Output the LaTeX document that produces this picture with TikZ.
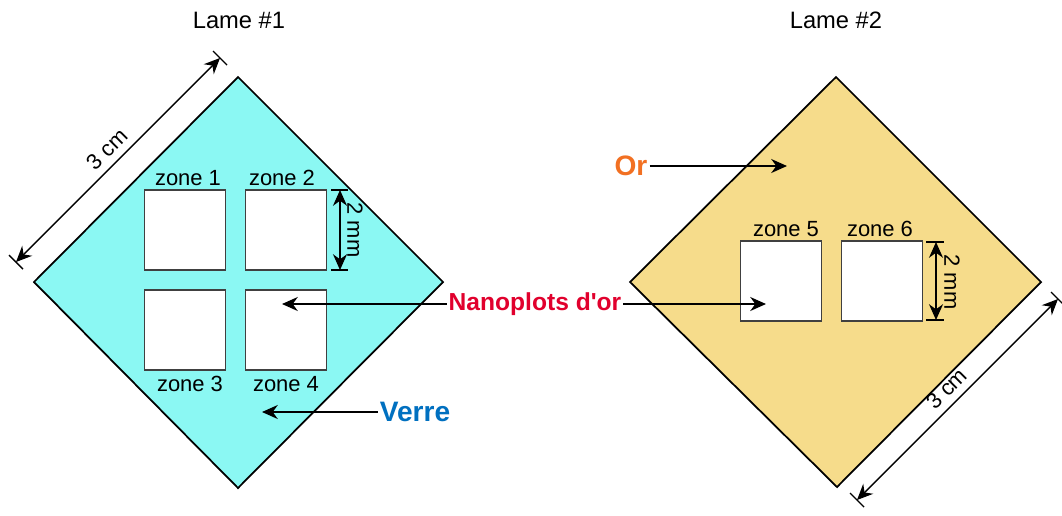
\documentclass[tikz,border=0pt]{standalone}
\usepackage{fontspec}
\setmainfont{Liberation Sans}
\usetikzlibrary{arrows.meta,calc}
\definecolor{glass}{RGB}{139,248,243}
\definecolor{gold}{RGB}{246,220,139}
\definecolor{nanored}{RGB}{225,0,45}
\definecolor{verreblue}{RGB}{0,112,192}
\definecolor{ororange}{RGB}{242,112,34}
\tikzset{
 plate/.style={draw=black, line width=1pt, line join=miter},
 zonebox/.style={draw=black!75, fill=white, line width=0.9pt, minimum width=1.62cm, minimum height=1.6cm, inner sep=0pt},
 zonelabel/.style={font=\fontsize{12.5}{14}\selectfont, inner sep=0pt},
 titlelabel/.style={font=\fontsize{13.5}{16}\selectfont, inner sep=0pt},
 callout/.style={font=\fontsize{14}{16}\selectfont\bfseries, inner sep=1pt},
 bigcallout/.style={font=\fontsize{16}{18}\selectfont\bfseries, inner sep=1pt},
 pointer/.style={draw=black, line width=0.9pt, -{Stealth[length=9pt,width=8pt]}},
 dimline/.style={draw=black, line width=0.8pt, {Stealth[length=9pt,width=8pt]}-{Stealth[length=9pt,width=8pt]}},
 dimtick/.style={draw=black, line width=0.8pt},
}
\begin{document}
\begin{tikzpicture}[x=0.02cm,y=-0.02cm]
\useasboundingbox[fill=white] (0,0) rectangle (1062,515);

% ---------- Lame #1 ----------
\coordinate (L1t) at (238,77);
\coordinate (L1r) at (443,282);
\coordinate (L1b) at (238,488);
\coordinate (L1l) at (34,282);
\draw[plate, fill=glass] (L1t) -- (L1r) -- (L1b) -- (L1l) -- cycle;
\node[titlelabel] (title1) at (239,20) {Lame \#1};

\node[zonebox] (z1) at (185,230) {};
\node[zonebox] (z2) at (286,230) {};
\node[zonebox] (z3) at (185,330) {};
\node[zonebox] (z4) at (286,330) {};
\node[zonelabel] (lz1) at (188,178) {zone 1};
\node[zonelabel] (lz2) at (282,178) {zone 2};
\node[zonelabel] (lz3) at (190,384) {zone 3};
\node[zonelabel] (lz4) at (286,384) {zone 4};

% 2 mm (left)
\coordinate (d1a) at (340,190);
\coordinate (d1b) at (340,270);
\draw[dimline] (d1a) -- (d1b);
\draw[dimtick] ($(d1a)+(-9,0)$) -- ($(d1a)+(8,0)$);
\draw[dimtick] ($(d1b)+(-9,0)$) -- ($(d1b)+(8,0)$);
\node[zonelabel, rotate=-90] (mm1) at (355,230) {2 mm};

% 3 cm (left)
\coordinate (c1a) at (16,262);
\coordinate (c1b) at (220,58);
\draw[dimline] (c1a) -- node[midway, above=4pt, sloped, zonelabel] (cm1) {3 cm} (c1b);
\draw[dimtick] ($(c1a)+(-7,-7)$) -- ($(c1a)+(7,7)$);
\draw[dimtick] ($(c1b)+(-7,-7)$) -- ($(c1b)+(7,7)$);

% ---------- Lame #2 ----------
\coordinate (L2t) at (836,77);
\coordinate (L2r) at (1041,282);
\coordinate (L2b) at (837,487);
\coordinate (L2l) at (630,282);
\draw[plate, fill=gold] (L2t) -- (L2r) -- (L2b) -- (L2l) -- cycle;
\node[titlelabel] (title2) at (836,20) {Lame \#2};

\node[zonebox] (z5) at (781,281) {};
\node[zonebox] (z6) at (882,281) {};
\node[zonelabel] (lz5) at (786,229) {zone 5};
\node[zonelabel] (lz6) at (880,229) {zone 6};

% 2 mm (right)
\coordinate (d2a) at (936,242);
\coordinate (d2b) at (936,320);
\draw[dimline] (d2a) -- (d2b);
\draw[dimtick] ($(d2a)+(-10,0)$) -- ($(d2a)+(8,0)$);
\draw[dimtick] ($(d2b)+(-10,0)$) -- ($(d2b)+(8,0)$);
\node[zonelabel, rotate=-90] (mm2) at (952,282) {2 mm};

% 3 cm (right)
\coordinate (c2a) at (857,500);
\coordinate (c2b) at (1058,299);
\draw[dimline] (c2a) -- node[midway, above=4pt, sloped, zonelabel] (cm2) {3 cm} (c2b);
\draw[dimtick] ($(c2a)+(-7,-7)$) -- ($(c2a)+(7,7)$);
\draw[dimtick] ($(c2b)+(-7,-7)$) -- ($(c2b)+(7,7)$);

% ---------- callouts ----------
\node[callout, text=nanored] (nano) at (535,304) {Nanoplots d\textquotesingle or};
\coordinate (nanoL) at (282,304);
\coordinate (nanoR) at (766,304);
\draw[pointer] (nano.west) -- (nanoL);
\draw[pointer] (nano.east) -- (nanoR);

\node[bigcallout, text=verreblue] (verre) at (415,412) {Verre};
\coordinate (verreT) at (262,412);
\draw[pointer] (verre.west) -- (verreT);

\node[bigcallout, text=ororange] (or) at (631,166) {Or};
\coordinate (orT) at (787,166);
\draw[pointer] (or.east) -- (orT);
\end{tikzpicture}
\end{document}
